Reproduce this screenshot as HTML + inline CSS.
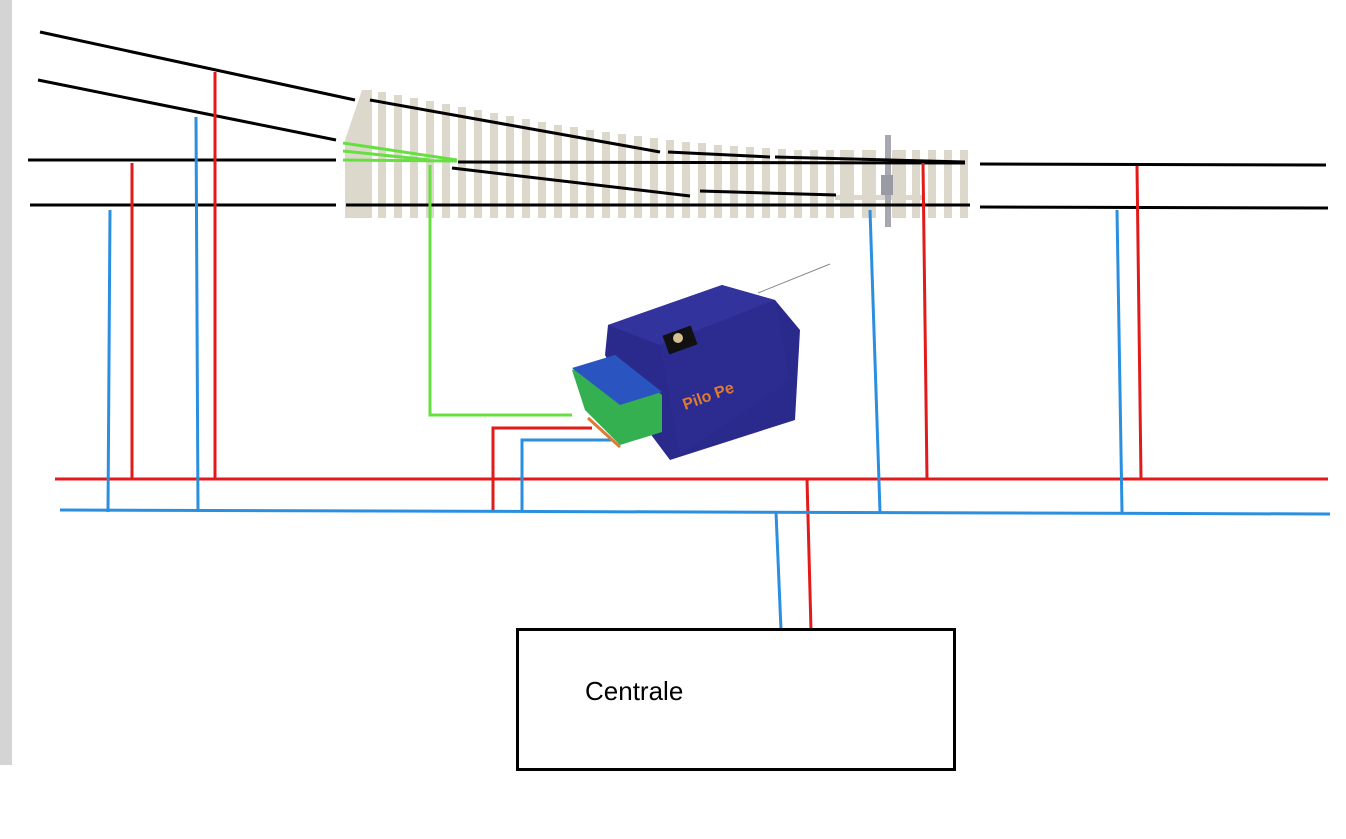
<!DOCTYPE html>
<html><head><style>body{margin:0;background:#fff;width:1346px;height:834px;overflow:hidden}</style></head><body>
<svg width="1346" height="834" xmlns="http://www.w3.org/2000/svg">
<rect x="0" y="0" width="12" height="765" fill="#d4d4d4"/>
<!-- ties -->
<g fill="#ddd8cc">
<polygon points="345,140 362,90 372,90 372,218 345,218"/>
<rect x="378" y="92" width="8" height="126"/><rect x="394" y="95" width="8" height="123"/>
<rect x="410" y="98" width="8" height="120"/><rect x="426" y="101" width="8" height="117"/>
<rect x="442" y="104" width="8" height="114"/><rect x="458" y="107" width="8" height="111"/>
<rect x="474" y="110" width="8" height="108"/><rect x="490" y="113" width="8" height="105"/>
<rect x="506" y="116" width="8" height="102"/><rect x="522" y="119" width="8" height="99"/>
<rect x="538" y="122" width="8" height="96"/><rect x="554" y="125" width="8" height="93"/>
<rect x="570" y="127" width="8" height="91"/><rect x="586" y="130" width="8" height="88"/>
<rect x="602" y="132" width="8" height="86"/><rect x="618" y="134" width="8" height="84"/>
<rect x="634" y="136" width="8" height="82"/><rect x="650" y="138" width="8" height="80"/>
<rect x="666" y="140" width="8" height="78"/><rect x="682" y="142" width="8" height="76"/>
<rect x="698" y="143" width="8" height="75"/><rect x="714" y="145" width="8" height="73"/>
<rect x="730" y="146" width="8" height="72"/><rect x="746" y="147" width="8" height="71"/>
<rect x="762" y="148" width="8" height="70"/><rect x="778" y="149" width="8" height="69"/>
<rect x="794" y="150" width="8" height="68"/><rect x="810" y="150" width="8" height="68"/>
<rect x="826" y="150" width="8" height="68"/><rect x="840" y="150" width="14" height="68"/>
<rect x="862" y="150" width="14" height="68"/><rect x="892" y="150" width="14" height="68"/>
<rect x="912" y="150" width="8" height="68"/><rect x="928" y="150" width="8" height="68"/>
<rect x="944" y="150" width="8" height="68"/><rect x="960" y="150" width="8" height="68"/>
<rect x="835" y="195" width="90" height="5"/>
</g>
<rect x="885" y="135" width="6" height="92" fill="#a8a8b0"/>
<rect x="881" y="175" width="12" height="20" fill="#9a9aa4"/>
<!-- black rails -->
<g stroke="#000" stroke-width="3" fill="none">
<line x1="40" y1="32" x2="355" y2="100"/>
<line x1="370" y1="100" x2="660" y2="152"/>
<line x1="668" y1="152" x2="770" y2="157"/>
<line x1="775" y1="157" x2="965" y2="162"/>
<line x1="38" y1="80" x2="336" y2="140"/>
<line x1="28" y1="160" x2="336" y2="160"/>
<line x1="458" y1="162" x2="965" y2="163"/>
<line x1="980" y1="164" x2="1326" y2="165"/>
<line x1="30" y1="205" x2="336" y2="205"/>
<line x1="346" y1="205" x2="970" y2="205"/>
<line x1="980" y1="207" x2="1328" y2="208"/>
<line x1="452" y1="168" x2="690" y2="196"/>
<line x1="700" y1="191" x2="836" y2="195"/>
</g>
<!-- green -->
<g stroke="#66e040" stroke-width="3" fill="none">
<line x1="343" y1="143" x2="457" y2="160"/>
<line x1="343" y1="160" x2="457" y2="161"/>
<line x1="343" y1="151" x2="430" y2="160"/>
<polyline points="430,165 430,415 572,415"/>
</g>
<!-- red -->
<g stroke="#e21a1a" stroke-width="3" fill="none">
<line x1="55" y1="479" x2="1328" y2="479"/>
<line x1="215" y1="72" x2="215" y2="479"/>
<line x1="132" y1="163" x2="132" y2="479"/>
<line x1="923" y1="163" x2="927" y2="479"/>
<line x1="1137" y1="166" x2="1141" y2="479"/>
<line x1="807" y1="479" x2="811" y2="630"/>
<polyline points="493,510 493,428 592,428"/>
</g>
<!-- blue -->
<g stroke="#2b8fe0" stroke-width="3" fill="none">
<line x1="60" y1="510" x2="1330" y2="514"/>
<line x1="196" y1="117" x2="198" y2="512"/>
<line x1="110" y1="210" x2="108" y2="512"/>
<line x1="870" y1="210" x2="880" y2="512"/>
<line x1="1117" y1="210" x2="1122" y2="512"/>
<line x1="776" y1="512" x2="781" y2="630"/>
<polyline points="522,512 522,440 612,440"/>
</g>
<line x1="758" y1="293" x2="830" y2="264" stroke="#888" stroke-width="1"/>
<!-- motor -->
<polygon points="608,325 722,285 775,300 800,330 795,420 670,460 640,420 605,355" fill="#2a2a8c"/>
<polygon points="608,325 722,285 775,300 660,345" fill="#33339e"/>
<polygon points="660,345 775,300 790,380 680,455" fill="#2c2c90"/>
<rect x="665" y="330" width="30" height="20" fill="#111" transform="rotate(-20 680 340)"/>
<circle cx="678" cy="338" r="5" fill="#d4c090"/>
<text x="685" y="410" font-family="Liberation Sans,sans-serif" font-size="16" font-weight="bold" fill="#e07a30" transform="rotate(-20 685 410)">Pilo Pe</text>
<polygon points="572,370 615,355 662,395 662,432 620,445 585,410" fill="#35b050"/>
<polygon points="572,368 615,355 662,392 620,405" fill="#2a55c0"/>
<line x1="588" y1="418" x2="620" y2="447" stroke="#e07a30" stroke-width="3"/>
<!-- centrale -->
<rect x="517.5" y="629.5" width="437" height="140" fill="#fff" stroke="#000" stroke-width="3"/>
<text x="585" y="700" font-family="Liberation Sans,sans-serif" font-size="26" fill="#000">Centrale</text>
</svg>
</body></html>
